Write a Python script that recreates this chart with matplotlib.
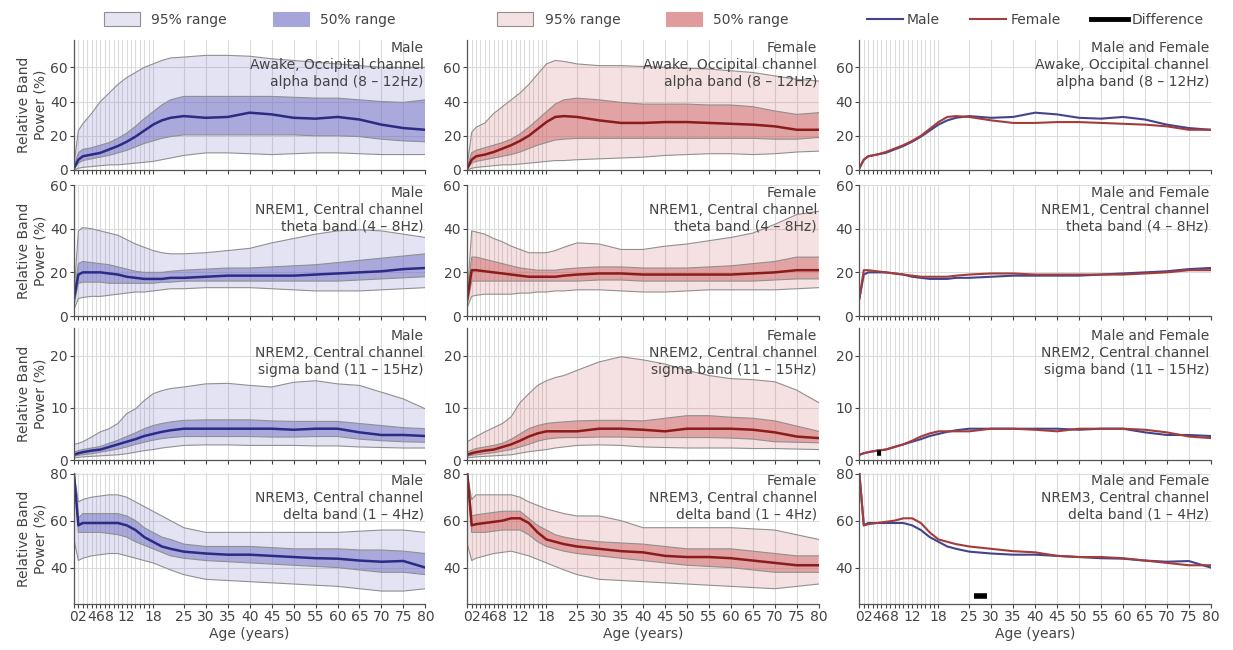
import matplotlib
matplotlib.use("Agg")
import matplotlib.pyplot as plt
from matplotlib.patches import Patch
from matplotlib.lines import Line2D

AGES = [0, 1, 2, 4, 6, 8, 10, 12, 14, 16, 18, 20, 22, 25, 30, 35, 40, 45, 50, 55, 60, 65, 70, 75, 80]

# ---- Awake, occipital, alpha ----
ALPHA_M_Q025 = [0, 1, 1.5, 2, 2.5, 3, 3, 3.5, 4, 4.5, 5, 6, 7, 8.5, 10, 10, 9.5, 9, 9.5, 10, 10, 9.5, 9, 9, 9]
ALPHA_M_Q25 = [0.5, 4, 5.5, 6.5, 7.5, 8.5, 10, 11.5, 13.5, 15.5, 17, 18.5, 19.5, 20.5, 20.5, 20.5, 20.5, 20.5, 20.5, 20, 20, 19.5, 18, 17, 16.5]
ALPHA_M_MED = [1, 6, 8, 9, 10, 12, 14, 16.5, 19.5, 23, 26.5, 29, 30.5, 31.5, 30.5, 31, 33.5, 32.5, 30.5, 30, 31, 29.5, 26.5, 24.5, 23.5]
ALPHA_M_Q75 = [2, 10, 12, 13, 14.5, 16, 18.5, 21.5, 25.5, 30, 34, 38, 41, 43, 43, 43, 43, 43, 42.5, 42, 42, 41, 40, 39.5, 41]
ALPHA_M_Q975 = [3, 23, 27, 33, 40, 45, 50, 54, 57, 60, 62, 64, 65.5, 66, 67, 67, 66.5, 65, 64, 63, 62, 61, 60, 60, 60]

ALPHA_F_Q025 = [0, 1, 1.5, 2, 2.5, 3, 3, 3.5, 4, 4.5, 5, 5.5, 5.5, 6, 6.5, 7, 7.5, 8.5, 9, 9.5, 9.5, 9, 9.5, 10.5, 11]
ALPHA_F_Q25 = [0.5, 4, 5, 6, 7, 8, 9, 10.5, 12.5, 14.5, 16, 17.5, 18, 18.5, 18.5, 18.5, 18.5, 18.5, 18.5, 18.5, 18.5, 18.5, 18, 18, 19]
ALPHA_F_MED = [1, 6, 8, 9, 10.5, 12.5, 14.5, 17, 20, 24, 28, 31, 31.5, 31, 29, 27.5, 27.5, 28, 28, 27.5, 27, 26.5, 25.5, 23.5, 23.5]
ALPHA_F_Q75 = [2, 10, 11.5, 13, 14.5, 16, 18, 21, 25, 29.5, 34, 38.5, 41, 42, 41, 39.5, 38.5, 38.5, 38.5, 38, 38, 37, 34.5, 32.5, 33.5]
ALPHA_F_Q975 = [3, 22, 25, 27.5, 33, 37, 41, 45, 50, 56, 62, 64, 63.5, 62, 61, 61, 60.5, 60, 59.5, 59, 58, 57, 55, 53, 52]

# ---- NREM1, central, theta ----
THETA_M_Q025 = [3, 8, 8.5, 9, 9, 9.5, 10, 10.5, 11, 11, 11.5, 12, 12.5, 12.5, 13, 13, 13, 12.5, 12, 11.5, 11.5, 11.5, 12, 12.5, 13]
THETA_M_Q25 = [5, 15, 15.5, 15.5, 15.5, 15, 15, 15, 15, 15, 15, 15.5, 15.5, 16, 16, 16, 16, 16, 16, 16, 16, 16.5, 17, 17.5, 18]
THETA_M_MED = [8, 19, 20, 20, 20, 19.5, 19, 18, 17.5, 17, 17, 17, 17.5, 17.5, 18, 18.5, 18.5, 18.5, 18.5, 19, 19.5, 20, 20.5, 21.5, 22]
THETA_M_Q75 = [10, 24, 25, 24.5, 24, 23.5, 22.5, 21.5, 20.5, 20, 20, 20, 20.5, 21, 21.5, 22, 22, 22.5, 23, 23.5, 24.5, 25.5, 26.5, 27.5, 28.5]
THETA_M_Q975 = [10, 39, 40.5, 40, 39, 38, 37, 35, 33, 31.5, 30, 29, 28.5, 28.5, 29, 30, 31, 33.5, 35.5, 37.5, 39, 39.5, 39, 37.5, 36]

THETA_F_Q025 = [4, 9, 9.5, 10, 10, 10, 10, 10.5, 10.5, 11, 11, 11.5, 11.5, 12, 12, 11.5, 11, 11, 11.5, 12, 12, 12, 12, 12.5, 13]
THETA_F_Q25 = [5, 16, 16, 16, 16, 16, 16, 16, 16, 16, 16, 16, 16, 16, 16.5, 16.5, 16, 16, 16, 16, 16, 16, 16.5, 17, 17]
THETA_F_MED = [8, 21, 21, 20.5, 20, 19.5, 19, 18.5, 18, 18, 18, 18, 18.5, 19, 19.5, 19.5, 19, 19, 19, 19, 19, 19.5, 20, 21, 21]
THETA_F_Q75 = [10, 27, 27, 26, 25, 24, 23, 22, 21.5, 21, 21, 21, 21.5, 22, 22.5, 22.5, 22, 22, 22, 22.5, 23, 24, 25, 27, 27]
THETA_F_Q975 = [10, 39, 38.5, 37.5, 35.5, 34, 32, 30.5, 29, 29, 29, 30, 31.5, 33.5, 33, 30.5, 30.5, 32, 33, 34.5, 36, 38, 42, 46.5, 48]

# ---- NREM2, central, sigma ----
SIGMA_M_Q025 = [0.4, 0.5, 0.6, 0.7, 0.8, 0.9, 1, 1.2, 1.5, 1.8, 2, 2.3, 2.5, 2.8, 2.9, 2.9, 2.8, 2.8, 2.8, 2.7, 2.7, 2.5, 2.4, 2.3, 2.3]
SIGMA_M_Q25 = [0.7, 0.9, 1, 1.2, 1.5, 1.8, 2.1, 2.5, 3, 3.4, 3.8, 4.1, 4.3, 4.5, 4.5, 4.5, 4.5, 4.4, 4.4, 4.5, 4.5, 4, 3.7, 3.5, 3.4]
SIGMA_M_MED = [1, 1.3, 1.5, 1.8, 2, 2.5, 3, 3.5, 4, 4.6, 5, 5.4, 5.7, 6, 6, 6, 6, 6, 5.8, 6, 6, 5.3, 4.8, 4.8, 4.6]
SIGMA_M_Q75 = [1.5, 1.8, 2, 2.3, 2.6, 3.2, 3.8, 4.5, 5.2, 6, 6.6, 7, 7.3, 7.6, 7.7, 7.7, 7.7, 7.5, 7.4, 7.4, 7.4, 7, 6.6, 6.2, 6]
SIGMA_M_Q975 = [3, 3.2, 3.5, 4.4, 5.4, 6, 7, 8.9, 9.8, 11.4, 12.7, 13.3, 13.7, 14, 14.6, 14.7, 14.3, 14, 14.9, 15.2, 14.6, 14.3, 13, 11.7, 9.8]

SIGMA_F_Q025 = [0.4, 0.5, 0.6, 0.7, 0.8, 0.9, 1, 1.3, 1.6, 1.8, 2, 2.3, 2.5, 2.8, 2.9, 2.8, 2.5, 2.4, 2.3, 2.3, 2.3, 2.2, 2.2, 2.1, 2]
SIGMA_F_Q25 = [0.7, 0.9, 1, 1.2, 1.4, 1.7, 2, 2.5, 3, 3.6, 4, 4.2, 4.3, 4.3, 4.4, 4.4, 4.3, 4.3, 4.3, 4.3, 4.2, 4, 3.5, 3.4, 3.3]
SIGMA_F_MED = [1, 1.3, 1.5, 1.8, 2, 2.5, 3, 3.7, 4.5, 5.1, 5.5, 5.5, 5.5, 5.5, 6, 6, 5.8, 5.5, 6, 6, 6, 5.8, 5.3, 4.5, 4.2]
SIGMA_F_Q75 = [1.5, 1.9, 2.2, 2.5, 2.8, 3.2, 4, 5, 6, 6.6, 7, 7.2, 7.3, 7.5, 7.6, 7.6, 7.5, 8, 8.5, 8.5, 8.2, 8, 7.5, 6.5, 5.5]
SIGMA_F_Q975 = [3.5, 4, 4.5, 5.4, 6.2, 7, 8.3, 11, 12.7, 14.3, 15.2, 15.8, 16.2, 17.2, 18.8, 19.8, 19.2, 18.4, 17.2, 16.2, 15.6, 15.4, 15, 13.4, 11]

# ---- NREM3, central, delta ----
DELTA_M_Q025 = [52, 43, 44, 45, 45.5, 46, 46, 45, 44, 43, 42, 40.5, 39, 37, 35, 34.5, 34, 33.5, 33, 32.5, 32, 31, 30, 30, 31]
DELTA_M_Q25 = [80, 55, 55, 55, 55, 54.5, 54, 53, 51, 49.5, 48, 46.5, 45, 44, 43, 42.5, 42, 41.5, 41, 40.5, 40, 39, 38, 38, 37]
DELTA_M_MED = [80, 58, 59, 59, 59, 59, 59, 58, 56, 53, 51, 49, 48, 46.8, 46, 45.5, 45.5, 45, 44.5, 44, 43.8, 43, 42.5, 42.8, 40]
DELTA_M_Q75 = [80, 61, 63, 63, 63, 63, 63, 62, 60, 57, 55, 53, 52, 50, 49, 49, 49, 48.5, 48, 48, 48, 47.5, 47.5, 47, 46]
DELTA_M_Q975 = [80, 68, 69, 70, 70.5, 71, 71, 70, 68, 66, 64, 62, 60, 57, 55, 55, 55, 55, 55, 55, 55, 55.5, 56, 56, 55]

DELTA_F_Q025 = [50, 43, 44, 45, 46, 46.5, 47, 46, 45, 43.5, 42, 40.5, 39, 37, 35, 34.5, 34, 33.5, 33, 32.5, 32, 31.5, 31, 32, 33]
DELTA_F_Q25 = [80, 55, 55, 55, 55.5, 56, 56, 56, 54, 51, 49, 48, 47, 46, 45, 44, 43, 42, 41, 40.5, 40, 39, 38, 38, 38]
DELTA_F_MED = [80, 58, 58.5, 59, 59.5, 60, 61, 61, 59, 55, 52, 51, 50, 49, 48, 47, 46.5, 45, 44.5, 44.5, 44, 43, 42, 41, 41]
DELTA_F_Q75 = [80, 62, 62.5, 63, 63.5, 64, 64, 64, 61, 58, 56, 54, 53, 52, 51, 50.5, 50, 49, 48, 48, 48, 47, 46, 45, 45]
DELTA_F_Q975 = [80, 69, 71, 71, 71, 71, 71, 70, 68, 66.5, 65, 64, 63, 62, 62, 60, 57, 57, 57, 57, 57, 56.5, 56, 54, 52]

# significant-difference segments (age span, y position)
SIGMA_DIFF_AGES = [4, 5]
SIGMA_DIFF_Y = [1.3, 1.3]
DELTA_DIFF_AGES = [26, 29]
DELTA_DIFF_Y = [28, 28]

TITLES = ["Awake, Occipital channel\nalpha band (8 \u2013 12Hz)",
          "NREM1, Central channel\ntheta band (4 \u2013 8Hz)",
          "NREM2, Central channel\nsigma band (11 \u2013 15Hz)",
          "NREM3, Central channel\ndelta band (1 \u2013 4Hz)"]
YLIMS = [(0, 76), (0, 60), (0, 25.3), (24.5, 80.3)]
YTICKS = [[0, 20, 40, 60], [0, 20, 40, 60], [0, 10, 20], [40, 60, 80]]

MALE = [(ALPHA_M_Q025, ALPHA_M_Q25, ALPHA_M_MED, ALPHA_M_Q75, ALPHA_M_Q975),
        (THETA_M_Q025, THETA_M_Q25, THETA_M_MED, THETA_M_Q75, THETA_M_Q975),
        (SIGMA_M_Q025, SIGMA_M_Q25, SIGMA_M_MED, SIGMA_M_Q75, SIGMA_M_Q975),
        (DELTA_M_Q025, DELTA_M_Q25, DELTA_M_MED, DELTA_M_Q75, DELTA_M_Q975)]
FEMALE = [(ALPHA_F_Q025, ALPHA_F_Q25, ALPHA_F_MED, ALPHA_F_Q75, ALPHA_F_Q975),
          (THETA_F_Q025, THETA_F_Q25, THETA_F_MED, THETA_F_Q75, THETA_F_Q975),
          (SIGMA_F_Q025, SIGMA_F_Q25, SIGMA_F_MED, SIGMA_F_Q75, SIGMA_F_Q975),
          (DELTA_F_Q025, DELTA_F_Q25, DELTA_F_MED, DELTA_F_Q75, DELTA_F_Q975)]
DIFFS = [None, None, (SIGMA_DIFF_AGES, SIGMA_DIFF_Y), (DELTA_DIFF_AGES, DELTA_DIFF_Y)]

TICK_POS = list(range(0, 19)) + list(range(25, 81, 5))
TICK_LABELS = {0: "0", 2: "2", 4: "4", 6: "6", 8: "8", 12: "12", 18: "18"}

M_BASE = (0.42, 0.42, 0.76)
F_BASE = (0.80, 0.38, 0.38)
M_LINE = "#2b2b85"
F_LINE = "#8b1c1c"
M_LINE3 = "#44448c"
F_LINE3 = "#a43c3c"
EDGE = "#909090"
TXT = "#444444"

plt.rcParams["font.family"] = ["DejaVu Sans"]
plt.rcParams["font.size"] = 10

fig = plt.figure(figsize=(12.33, 6.5), dpi=100)

lefts = [0.060, 0.379, 0.697]
width = 0.285
bottoms = [0.7385, 0.5138, 0.2923, 0.0708]
heights = [0.2, 0.2015, 0.203, 0.2015]

axes = [[None] * 3 for _ in range(4)]


def style_axis(ax, r):
    ax.set_xlim(0, 80)
    ax.set_ylim(*YLIMS[r])
    ax.set_yticks(YTICKS[r])
    ax.set_xticks(TICK_POS)
    if r == 3:
        ax.set_xticklabels([TICK_LABELS.get(t, str(t) if t >= 25 else "") for t in TICK_POS])
        ax.set_xlabel("Age (years)", color=TXT, labelpad=2)
    else:
        ax.set_xticklabels([])
    ax.tick_params(axis="both", colors=TXT, labelcolor=TXT, length=3, width=0.8, pad=1.5)
    ax.grid(True, color="#dcdcdc", linewidth=0.8)
    ax.set_axisbelow(True)
    for s in ("top", "right"):
        ax.spines[s].set_visible(False)
    for s in ("left", "bottom"):
        ax.spines[s].set_color("#555555")
        ax.spines[s].set_linewidth(0.9)


def draw_bands(ax, data, base, line_color):
    q025, q25, med, q75, q975 = data
    ax.fill_between(AGES, q025, q975, facecolor=base, alpha=0.19, linewidth=0)
    ax.fill_between(AGES, q25, q75, facecolor=base, alpha=0.48, linewidth=0)
    for q in (q025, q975, q25, q75):
        ax.plot(AGES, q, color=EDGE, linewidth=0.8)
    ax.plot(AGES, med, color=line_color, linewidth=1.8)


for r in range(4):
    for c in range(3):
        ax = fig.add_axes([lefts[c], bottoms[r], width, heights[r]])
        axes[r][c] = ax
        style_axis(ax, r)
        if c == 0:
            draw_bands(ax, MALE[r], M_BASE, M_LINE)
            who = "Male"
            ax.set_ylabel("Relative Band\nPower (%)", color=TXT, labelpad=2)
        elif c == 1:
            draw_bands(ax, FEMALE[r], F_BASE, F_LINE)
            who = "Female"
        else:
            ax.plot(AGES, MALE[r][2], color=M_LINE3, linewidth=1.5)
            ax.plot(AGES, FEMALE[r][2], color=F_LINE3, linewidth=1.5)
            if DIFFS[r] is not None:
                ax.plot(DIFFS[r][0], DIFFS[r][1], color="black", linewidth=4,
                        solid_capstyle="butt")
            who = "Male and Female"
        ax.text(0.995, 0.99, who + "\n" + TITLES[r], transform=ax.transAxes,
                ha="right", va="top", color=TXT, fontsize=10, linespacing=1.25)

# legends
m_handles = [Patch(facecolor="#e4e4f2", edgecolor=EDGE, linewidth=0.8),
             Patch(facecolor="#a5a5da", edgecolor="#a5a5da", linewidth=0.8)]
f_handles = [Patch(facecolor="#f5e1e1", edgecolor=EDGE, linewidth=0.8),
             Patch(facecolor="#e09c9c", edgecolor="#e09c9c", linewidth=0.8)]
for c, hs in ((0, m_handles), (1, f_handles)):
    axes[0][c].legend(hs, ["95% range", "50% range"], loc="lower center",
                      bbox_to_anchor=(0.5, 1.06), ncol=2, frameon=False,
                      handlelength=2.6, handleheight=1.1, columnspacing=3.3,
                      borderaxespad=0, labelcolor=TXT)
l_handles = [Line2D([], [], color=M_LINE3, linewidth=1.5),
             Line2D([], [], color=F_LINE3, linewidth=1.5),
             Line2D([], [], color="black", linewidth=3.5)]
axes[0][2].legend(l_handles, ["Male", "Female", "Difference"], loc="lower center",
                  bbox_to_anchor=(0.5, 1.06), ncol=3, frameon=False,
                  handlelength=2.6, columnspacing=2.2, handletextpad=0.3,
                  borderaxespad=0, labelcolor=TXT)

fig.savefig("out.png", dpi=100)
